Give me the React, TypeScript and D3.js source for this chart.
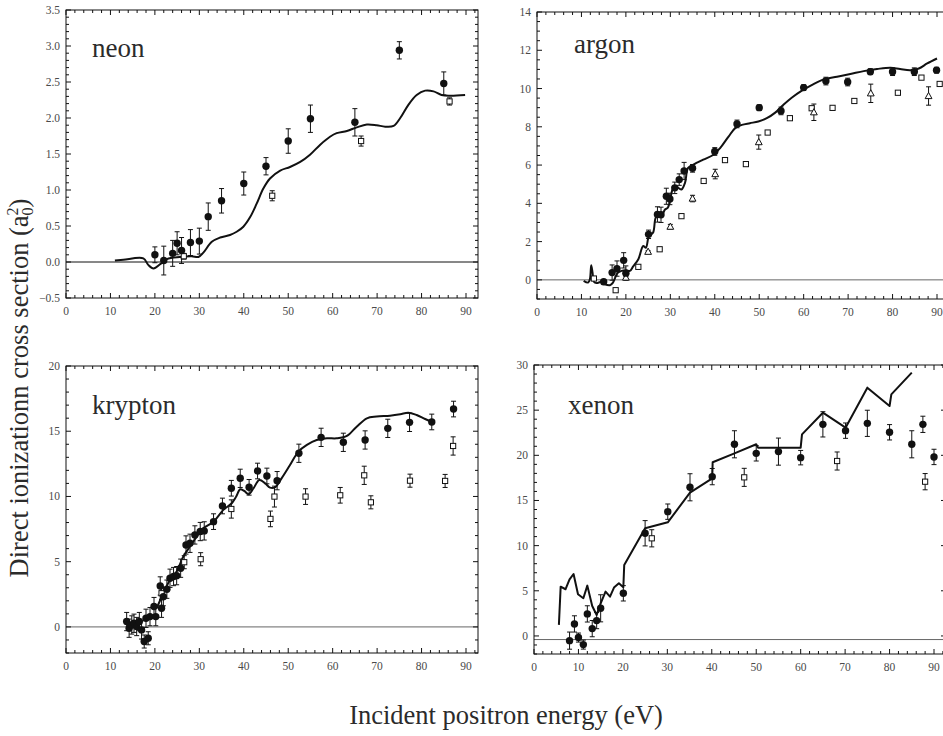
import React from "react";
import * as d3 from "d3";

// Series values: [energy (eV), cross section, error]
const neonCircles: number[][] = [
  [20, 0.1, 0.11], [22, 0.02, 0.2], [24, 0.12, 0.18], [25, 0.26, 0.16], [26, 0.16, 0.18],
  [28, 0.27, 0.18], [30, 0.29, 0.18], [32, 0.63, 0.19], [35, 0.85, 0.17], [40, 1.09, 0.16],
  [45, 1.33, 0.12], [50, 1.68, 0.17], [55, 1.99, 0.19], [65, 1.94, 0.19], [75, 2.94, 0.12],
  [85, 2.48, 0.16],
];
const neonSquares: number[][] = [
  [26.5, 0.08, 0.04], [46.4, 0.92, 0.07], [66.4, 1.68, 0.07], [86.3, 2.23, 0.05],
];
const neonTheory: number[][] = [
  [11, 0.02], [12.9, 0.03], [17.4, 0.05], [18.5, -0.04], [19.7, -0.09], [21.2, -0.03],
  [22.7, 0.04], [25.6, 0.07], [28.3, 0.08], [29.8, 0.07], [30.9, 0.13], [32.8, 0.28],
  [34.7, 0.34], [36.9, 0.375], [38.4, 0.42], [39.9, 0.49], [41.4, 0.62], [42.9, 0.81],
  [44.4, 1.02], [45.9, 1.16], [48.2, 1.27], [50.4, 1.32], [52.7, 1.39], [54.9, 1.49],
  [57.2, 1.63], [59.4, 1.74], [60.9, 1.79], [63.2, 1.82], [65.4, 1.87], [67.7, 1.91],
  [69.9, 1.9], [71.8, 1.88], [73.7, 1.89], [75.2, 2.0], [77.0, 2.18], [78.9, 2.32],
  [80.8, 2.38], [82.7, 2.37], [84.5, 2.32], [86.4, 2.31], [89.8, 2.32],
];

const argonCircles: number[][] = [
  [15, -0.1, 0.12], [16.9, 0.38, 0.4], [18, 0.59, 0.4], [19.5, 1.02, 0.4], [20, 0.35, 0.38],
  [25.1, 2.38, 0.22], [27.1, 3.42, 0.4], [27.9, 3.4, 0.4], [29.1, 4.37, 0.42], [29.9, 4.23, 0.3],
  [31, 4.81, 0.3], [32, 5.24, 0.3], [33.1, 5.69, 0.45], [35, 5.83, 0.2], [40, 6.71, 0.2],
  [45, 8.15, 0.2], [50, 9.0, 0.15], [54.9, 8.83, 0.2], [60, 10.05, 0.15], [65, 10.39, 0.2],
  [69.9, 10.34, 0.2], [75, 10.88, 0.15], [80, 10.88, 0.2], [84.9, 10.88, 0.2], [89.9, 10.96, 0.15],
];
const argonSquares: number[][] = [
  [12.8, 0.07, 0], [17.7, -0.54, 0], [22.8, 0.68, 0], [27.6, 1.6, 0], [32.5, 3.33, 0],
  [37.5, 5.17, 0], [42.3, 6.26, 0], [47, 6.05, 0], [51.9, 7.7, 0], [56.9, 8.45, 0],
  [61.8, 8.97, 0], [66.5, 8.99, 0], [71.4, 9.35, 0], [81.2, 9.78, 0], [86.5, 10.57, 0],
  [90.6, 10.24, 0],
];
const argonTriangles: number[][] = [
  [20, 0.12, 0.05], [25, 1.47, 0.05], [30, 2.78, 0.12], [35, 4.25, 0.17], [40.1, 5.53, 0.25],
  [49.9, 7.2, 0.37], [62.3, 8.76, 0.43], [75.1, 9.75, 0.48], [88.1, 9.61, 0.48],
];
const argonTheory: number[][] = [
  [10.5, -0.05], [11.5, -0.14], [11.9, 0.03], [12.2, 0.76], [12.5, 0.38], [12.8, -0.1],
  [13.4, -0.17], [14.5, -0.1], [15.3, -0.23], [16.4, -0.28], [17.1, -0.14], [18.1, 0.35],
  [19, 0.47], [20.1, 0.5], [20.9, 0.47], [21.6, 0.69], [22.8, 1.08], [23.9, 1.77],
  [24.5, 1.68], [25.2, 2.29], [26.1, 2.46], [26.7, 3.24], [27.3, 3.37], [28, 3.33],
  [28.8, 3.68], [29.4, 3.76], [29.9, 4.11], [30.5, 4.72], [31, 4.84], [31.8, 4.81],
  [32.5, 4.72], [33.3, 5.07], [34, 5.85], [35.2, 6.02], [37.4, 6.28], [39.7, 6.54],
  [41.2, 6.89], [43.1, 7.49], [44.6, 7.93], [46.1, 8.1], [47.9, 8.19], [49.8, 8.28],
  [51.7, 8.45], [53.6, 8.74], [55.4, 9.14], [57.3, 9.52], [59.6, 9.89], [61.8, 10.18],
  [64.5, 10.48], [67.5, 10.62], [70.5, 10.76], [73.5, 10.91], [76.5, 11.02], [79.5, 11.09],
  [81.7, 11.02], [84, 10.96], [85.9, 11.05], [87.8, 11.31], [90, 11.57],
];

const kryptonCircles: number[][] = [
  [13.65, 0.41, 0.7], [14.2, -0.1, 0.7], [14.8, 0.15, 0.7], [15.3, 0.28, 0.7], [15.9, 0.03, 0.7],
  [16.5, 0.41, 0.7], [17, -0.23, 0.7], [17.6, -1.12, 0.5], [18.5, -0.87, 0.5], [18, 0.66, 0.7],
  [18.9, 0.79, 0.7], [19.8, 1.56, 0.7], [20.2, 0.79, 0.7], [21.2, 3.14, 0.7], [21.5, 1.43, 0.7],
  [21.9, 2.32, 0.7], [22.7, 2.89, 0.7], [23.4, 3.73, 0.7], [24.2, 3.86, 0.7], [24.9, 3.93, 0.7],
  [25.8, 4.5, 0.7], [27, 6.28, 0.7], [27.9, 6.41, 0.7], [29, 7.05, 0.7], [30.2, 7.31, 0.7],
  [31.1, 7.36, 0.7], [33.2, 8.07, 0.6], [35.2, 9.27, 0.6], [37.2, 10.63, 0.6], [39.2, 11.39, 0.7],
  [41.2, 10.7, 0.6], [43.1, 11.95, 0.6], [45.2, 11.57, 0.6], [47.5, 11.21, 0.7], [52.4, 13.31, 0.7],
  [57.4, 14.53, 0.7], [62.4, 14.15, 0.7], [67.3, 14.33, 0.7], [72.4, 15.22, 0.7], [77.3, 15.68, 0.7],
  [82.3, 15.71, 0.6], [87.2, 16.7, 0.6],
];
const kryptonSquares: number[][] = [
  [21.5, 2.58, 0.5], [26.6, 4.96, 0.5], [30.3, 5.19, 0.5], [37.2, 9.04, 0.7], [46, 8.28, 0.6],
  [46.9, 9.99, 0.8], [53.9, 9.99, 0.6], [61.7, 10.09, 0.6], [67.1, 11.62, 0.7], [68.6, 9.55, 0.5],
  [77.4, 11.21, 0.5], [85.3, 11.19, 0.5], [87.1, 13.87, 0.7],
];
const kryptonTheory: number[][] = [
  [20.4, 1.43], [21.9, 2.58], [23.4, 3.6], [24.9, 4.24], [26.4, 5.39], [27.9, 6.16],
  [29.4, 6.92], [30.9, 7.56], [33.2, 8.07], [35.4, 8.97], [37.3, 9.48], [38.3, 9.99],
  [39.2, 10.55], [40.1, 10.42], [41.1, 10.17], [42.2, 10.63], [43.5, 11.26], [44.8, 11.01],
  [45.9, 10.68], [47, 10.7], [48.5, 11.39], [50.4, 12.41], [52.3, 13.44], [54.2, 13.95],
  [56.4, 14.33], [58.7, 14.46], [60.9, 14.46], [63.2, 14.64], [65.4, 15.35], [67.7, 15.99],
  [69.9, 16.12], [72.9, 16.19], [75.2, 16.3], [77, 16.42], [78.9, 16.24], [80.8, 15.94],
  [82.3, 15.73],
];

const xenonCircles: number[][] = [
  [8, -0.52, 0.95], [9.1, 1.33, 0.9], [10, -0.18, 0.5], [11.1, -0.96, 0.5], [12, 2.44, 0.9],
  [13.1, 0.81, 0.9], [14.1, 1.7, 0.9], [15, 3.06, 1.5], [20.1, 4.72, 0.85], [25, 11.37, 1.4],
  [30.1, 13.76, 0.85], [35.1, 16.46, 1.5], [40.1, 17.64, 0.9], [45.1, 21.22, 1.5], [50, 20.22, 0.85],
  [55, 20.41, 1.5], [60, 19.74, 0.8], [65, 23.43, 1.4], [70.1, 22.73, 0.85], [75, 23.54, 1.45],
  [80, 22.55, 0.85], [85, 21.22, 1.5], [87.5, 23.43, 0.9], [90, 19.82, 0.85],
];
const xenonSquares: number[][] = [
  [26.5, 10.81, 0.95], [47.3, 17.56, 1.0], [68.2, 19.37, 1.0], [88, 17.08, 0.9],
];
const xenonTheory: number[][] = [
  [5.6, 1.22], [6, 5.46], [7.1, 5.17], [8, 6.27], [8.9, 6.86], [9.9, 4.61], [11.1, 4.17],
  [12, 5.57], [13.1, 3.32], [14.1, 2.32], [15, 3.62], [16.1, 4.91], [17.1, 4.35], [18, 5.35],
  [19.1, 5.83], [20.1, 5.39], [20.3, 7.86], [25, 11.92], [30.1, 12.58], [35.1, 15.87],
  [40.1, 17.45], [40.2, 19.23], [45.1, 20.22], [50, 21.22], [50.4, 20.85], [55, 20.85],
  [60, 20.85], [60.3, 22.32], [65, 24.72], [70.1, 23.06], [75, 27.49], [80, 25.46],
  [80.4, 26.75], [85, 29.15],
];

const xTickValues = [0, 10, 20, 30, 40, 50, 60, 70, 80, 90];

type Panel = {
  name: string;
  rect: { x: number; y: number; w: number; h: number };
  yDomain: [number, number];
  yMajor: number;
  yMinor: number;
  yFormat: (v: number) => string;
  baseline: number;
  baselineColor: string;
  labelDx: number;
  labelY: number;
  circles: number[][];
  squares: number[][];
  triangles: number[][];
  theory: number[][];
  smooth: boolean;
};

const panels: Panel[] = [
  {
    name: "neon", rect: { x: 66, y: 10, w: 412, h: 288 }, yDomain: [-0.5, 3.5], yMajor: 0.5, yMinor: 0.1,
    yFormat: d3.format(".1f"), baseline: 0, baselineColor: "#111", labelDx: 26, labelY: 57,
    circles: neonCircles, squares: neonSquares, triangles: [], theory: neonTheory, smooth: true,
  },
  {
    name: "argon", rect: { x: 537, y: 12, w: 412, h: 287 }, yDomain: [-1, 14], yMajor: 2, yMinor: 0.5,
    yFormat: d3.format("d"), baseline: 0, baselineColor: "#666", labelDx: 37, labelY: 53,
    circles: argonCircles, squares: argonSquares, triangles: argonTriangles, theory: argonTheory, smooth: true,
  },
  {
    name: "krypton", rect: { x: 66, y: 366, w: 412, h: 287 }, yDomain: [-2, 20], yMajor: 5, yMinor: 1,
    yFormat: d3.format("d"), baseline: 0, baselineColor: "#666", labelDx: 26, labelY: 414,
    circles: kryptonCircles, squares: kryptonSquares, triangles: [], theory: kryptonTheory, smooth: true,
  },
  {
    name: "xenon", rect: { x: 534, y: 365, w: 412, h: 289 }, yDomain: [-2, 30], yMajor: 5, yMinor: 1,
    yFormat: d3.format("d"), baseline: -0.4, baselineColor: "#666", labelDx: 34, labelY: 414,
    circles: xenonCircles, squares: xenonSquares, triangles: [], theory: xenonTheory, smooth: false,
  },
];

const SERIF = '"Liberation Serif", "DejaVu Serif", "Noto Serif", Times, "Times New Roman", serif';
const TICK_COLOR = "#4a4a4a";
const TEXT_COLOR = "#2b2b2b";

function ErrorBar({ x, y0, y1 }: { x: number; y0: number; y1: number }) {
  if (Math.abs(y1 - y0) < 1) return null;
  return (
    <g stroke="#111" strokeWidth={1}>
      <line x1={x} x2={x} y1={y0} y2={y1} />
      <line x1={x - 2.5} x2={x + 2.5} y1={y0} y2={y0} />
      <line x1={x - 2.5} x2={x + 2.5} y1={y1} y2={y1} />
    </g>
  );
}

function PanelView({ p }: { p: Panel }) {
  const { x: left, y: top, w, h } = p.rect;
  const xScale = d3.scaleLinear().domain([0, 92.7]).range([left, left + w]);
  const yScale = d3.scaleLinear().domain(p.yDomain).range([top + h, top]);

  const xMinor = d3.range(0, 92.7, 2);
  const yMajorTicks = d3.range(
    Math.ceil(p.yDomain[0] / p.yMajor) * p.yMajor,
    p.yDomain[1] + 1e-9,
    p.yMajor
  );
  const yMinorTicks = d3.range(
    Math.ceil(p.yDomain[0] / p.yMinor) * p.yMinor,
    p.yDomain[1] + 1e-9,
    p.yMinor
  );

  const line = d3
    .line<number[]>()
    .x((d) => xScale(d[0]))
    .y((d) => yScale(d[1]))
    .curve(p.smooth ? d3.curveCatmullRom.alpha(0.5) : d3.curveLinear);

  const clipId = `clip-${p.name}`;
  const right = left + w;
  const bottom = top + h;

  return (
    <g>
      <defs>
        <clipPath id={clipId}>
          <rect x={left} y={top} width={w} height={h} />
        </clipPath>
      </defs>

      {/* baseline */}
      <line
        x1={left}
        x2={right}
        y1={yScale(p.baseline)}
        y2={yScale(p.baseline)}
        stroke={p.baselineColor}
        strokeWidth={1}
      />

      {/* frame */}
      <rect x={left} y={top} width={w} height={h} fill="none" stroke="#111" strokeWidth={1} />

      {/* ticks, inward on all four sides */}
      <g stroke="#111" strokeWidth={1}>
        {xMinor.map((t) => {
          const major = t % 10 === 0;
          const len = major ? 5 : 3;
          const xx = xScale(t);
          return (
            <g key={`xt${t}`}>
              <line x1={xx} x2={xx} y1={bottom} y2={bottom - len} />
              <line x1={xx} x2={xx} y1={top} y2={top + len} />
            </g>
          );
        })}
        {yMinorTicks.map((t, i) => {
          const major = yMajorTicks.some((m) => Math.abs(m - t) < 1e-6);
          const len = major ? 5 : 3;
          const yy = yScale(t);
          return (
            <g key={`yt${i}`}>
              <line x1={left} x2={left + len} y1={yy} y2={yy} />
              <line x1={right} x2={right - len} y1={yy} y2={yy} />
            </g>
          );
        })}
      </g>

      {/* tick labels */}
      <g style={{ fontFamily: SERIF }} fontSize={11.5} fill={TICK_COLOR}>
        {xTickValues.map((t) => (
          <text key={`xl${t}`} x={xScale(t)} y={bottom + 17} textAnchor="middle">
            {t}
          </text>
        ))}
        {yMajorTicks.map((t, i) => (
          <text key={`yl${i}`} x={left - 6} y={yScale(t) + 4} textAnchor="end">
            {p.yFormat(Math.abs(t) < 1e-9 ? 0 : t)}
          </text>
        ))}
      </g>

      {/* panel label */}
      <text
        x={left + p.labelDx}
        y={p.labelY}
        style={{ fontFamily: SERIF }}
        fontSize={27}
        fill={TEXT_COLOR}
      >
        {p.name}
      </text>

      <g clipPath={`url(#${clipId})`}>
        {/* theory curve */}
        <path d={line(p.theory) || ""} fill="none" stroke="#111" strokeWidth={2} strokeLinejoin="round" />

        {/* error bars */}
        {[...p.squares, ...p.triangles, ...p.circles].map((d, i) => (
          <ErrorBar
            key={`eb${i}`}
            x={xScale(d[0])}
            y0={yScale(d[1] - d[2])}
            y1={yScale(d[1] + d[2])}
          />
        ))}

        {/* open squares */}
        {p.squares.map((d, i) => (
          <rect
            key={`sq${i}`}
            x={xScale(d[0]) - 2.6}
            y={yScale(d[1]) - 2.6}
            width={5.2}
            height={5.2}
            fill="#fff"
            stroke="#111"
            strokeWidth={1}
          />
        ))}

        {/* open triangles */}
        {p.triangles.map((d, i) => {
          const cx = xScale(d[0]);
          const cy = yScale(d[1]);
          return (
            <path
              key={`tr${i}`}
              d={`M${cx},${cy - 3.6}L${cx + 3.4},${cy + 2.6}L${cx - 3.4},${cy + 2.6}Z`}
              fill="#fff"
              stroke="#111"
              strokeWidth={1}
            />
          );
        })}

        {/* filled circles */}
        {p.circles.map((d, i) => (
          <circle key={`c${i}`} cx={xScale(d[0])} cy={yScale(d[1])} r={3.7} fill="#111" />
        ))}
      </g>
    </g>
  );
}

export default function App() {
  return (
    <svg
      width={943}
      height={736}
      viewBox="0 0 943 736"
      style={{ position: "absolute", left: 0, top: 0, background: "#fff" }}
    >
      <rect x={0} y={0} width={943} height={736} fill="#fff" />
      {panels.map((p) => (
        <PanelView key={p.name} p={p} />
      ))}

      <text
        transform="translate(28,388) rotate(-90)"
        textAnchor="middle"
        style={{ fontFamily: SERIF }}
        fontSize={26.5}
        fill={TEXT_COLOR}
      >
        Direct ionizationn cross section (a
        <tspan fontSize={16} dy={5}>0</tspan>
        <tspan fontSize={16} dy={-15} dx={-8}>2</tspan>
        <tspan dy={10}>)</tspan>
      </text>

      <text
        x={506}
        y={724}
        textAnchor="middle"
        style={{ fontFamily: SERIF }}
        fontSize={26.5}
        fill={TEXT_COLOR}
      >
        Incident positron energy (eV)
      </text>
    </svg>
  );
}
